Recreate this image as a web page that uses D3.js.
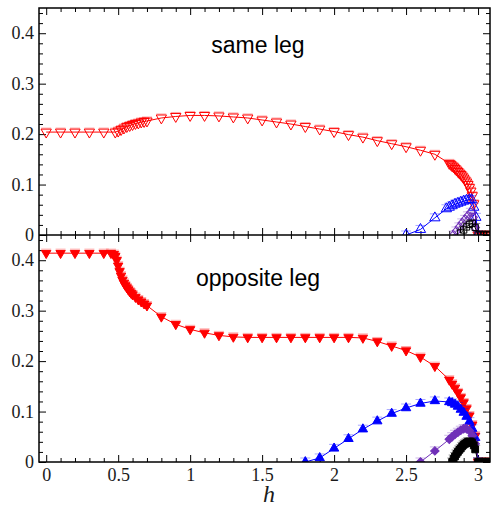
<!DOCTYPE html>
<html>
<head>
<meta charset="utf-8">
<script src="https://cdn.jsdelivr.net/npm/d3@7"></script>
<style>
  body { margin: 0; background: #fff; }
  svg { display: block; }
</style>
</head>
<body>
<div id="chart"></div>
<script>
// ---- data ----
// same leg (open markers)
const hSameRed = [0, 0.1, 0.2, 0.3, 0.4, 0.48, 0.5, 0.52, 0.54, 0.56, 0.58, 0.6, 0.62, 0.64, 0.66, 0.68, 0.7,
  0.8, 0.9, 1.0, 1.1, 1.2, 1.3, 1.4, 1.5, 1.6, 1.7, 1.8, 1.9, 2.0, 2.1, 2.2, 2.3, 2.4, 2.5, 2.6, 2.7,
  2.8, 2.81, 2.82, 2.83, 2.84, 2.85, 2.86, 2.87, 2.88, 2.89, 2.9, 2.91, 2.92, 2.93, 2.94, 2.95, 2.96, 2.97,
  3.0, 3.02, 3.04, 3.06, 3.08];
const sameRed = [0.204, 0.204, 0.204, 0.204, 0.204, 0.204, 0.206, 0.209, 0.212, 0.215, 0.217, 0.219, 0.221, 0.222, 0.224, 0.225, 0.226,
  0.232, 0.235, 0.237, 0.237, 0.236, 0.234, 0.232, 0.228, 0.224, 0.22, 0.215, 0.21, 0.205, 0.199, 0.194, 0.187, 0.181, 0.175, 0.168, 0.16,
  0.142, 0.14, 0.137, 0.135, 0.132, 0.129, 0.126, 0.123, 0.12, 0.117, 0.113, 0.109, 0.105, 0.1, 0.094, 0.087, 0.078, 0.062,
  0, 0, 0, 0, 0];

const hSameBlue = [2.5, 2.6, 2.7, 2.78, 2.8, 2.82, 2.84, 2.86, 2.88, 2.9, 2.92, 2.94, 2.955, 2.97, 2.985, 3.0];
const sameBlue = [0, 0.011, 0.034, 0.052, 0.055, 0.058, 0.061, 0.063, 0.065, 0.067, 0.069, 0.07, 0.07, 0.055, 0.035, 0];

const hSamePurple = [2.83, 2.85, 2.87, 2.89, 2.91, 2.93, 2.95, 2.965, 2.98, 3.0];
const samePurple = [0, 0.008, 0.016, 0.024, 0.031, 0.038, 0.045, 0.035, 0.015, 0];

const hSameBlack = [2.88, 2.9, 2.92, 2.94, 2.96, 2.98, 3.0, 3.02, 3.04, 3.06, 3.08];
const sameBlack = [0.004, 0.01, 0.016, 0.021, 0.023, 0.015, 0, 0, 0, 0, 0];

// opposite leg (filled markers)
const hOppRed = [0, 0.1, 0.2, 0.3, 0.4, 0.45, 0.47, 0.48, 0.49, 0.5, 0.51, 0.52, 0.53, 0.54, 0.55, 0.56, 0.57, 0.58, 0.59, 0.6,
  0.62, 0.64, 0.66, 0.68, 0.7, 0.8, 0.9, 1.0, 1.1, 1.2, 1.3, 1.4, 1.5, 1.6, 1.7, 1.8, 1.9, 2.0, 2.1, 2.2,
  2.3, 2.4, 2.5, 2.6, 2.7, 2.8, 2.82, 2.84, 2.86, 2.88, 2.9, 2.92, 2.94, 2.96, 2.98, 3.0, 3.02, 3.04, 3.06, 3.08];
const oppRed = [0.414, 0.414, 0.414, 0.414, 0.414, 0.414, 0.412, 0.408, 0.4, 0.389, 0.378, 0.369, 0.361, 0.355, 0.35, 0.346, 0.342, 0.338, 0.335, 0.332,
  0.327, 0.322, 0.318, 0.314, 0.31, 0.288, 0.273, 0.263, 0.256, 0.251, 0.248, 0.247, 0.247, 0.247, 0.247, 0.247, 0.247, 0.247, 0.247, 0.246,
  0.239, 0.23, 0.221, 0.208, 0.19, 0.163, 0.155, 0.147, 0.138, 0.128, 0.118, 0.106, 0.092, 0.074, 0.052, 0, 0, 0, 0, 0];

const hOppBlue = [1.8, 1.9, 2.0, 2.1, 2.2, 2.3, 2.4, 2.5, 2.6, 2.7, 2.8, 2.82, 2.84, 2.86, 2.88, 2.9, 2.92, 2.94, 2.96, 2.98, 3.0];
const oppBlue = [0, 0.008, 0.027, 0.046, 0.065, 0.081, 0.096, 0.107, 0.116, 0.121, 0.119, 0.117, 0.114, 0.11, 0.104, 0.098, 0.09, 0.08, 0.066, 0.048, 0];

const hOppPurple = [2.6, 2.7, 2.8, 2.82, 2.84, 2.86, 2.88, 2.9, 2.92, 2.94, 2.96, 2.98, 3.0];
const oppPurple = [0, 0.022, 0.045, 0.05, 0.055, 0.059, 0.063, 0.066, 0.066, 0.062, 0.052, 0.036, 0];

const hOppBlack = [2.82, 2.83, 2.84, 2.85, 2.86, 2.87, 2.88, 2.89, 2.9, 2.91, 2.92, 2.93, 2.94, 2.95, 2.96, 2.97, 2.98, 3.0, 3.02, 3.04, 3.06, 3.08];
const oppBlack = [0, 0.006, 0.011, 0.016, 0.02, 0.024, 0.027, 0.031, 0.034, 0.036, 0.038, 0.04, 0.04, 0.04, 0.038, 0.033, 0.025, 0, 0, 0, 0, 0];

const xMajor = [0, 0.5, 1, 1.5, 2, 2.5, 3];
const yMajor = [0, 0.1, 0.2, 0.3, 0.4];
const panelTitles = ["same leg", "opposite leg"];

// ---- layout ----
const W = 492, H = 508;
const pLeft = 39, pRight = 490, pTop = 8, pMid = 235, pBottom = 462;
const SERIF = '"Liberation Serif"';
const SANS = '"Liberation Sans"';

const svg = d3.select("#chart").append("svg").attr("width", W).attr("height", H);

const x = d3.scaleLinear().domain([-0.05, 3.083]).range([pLeft, pRight]);
const yTop = d3.scaleLinear().domain([0, 0.45]).range([pMid, pTop]);
const yBot = d3.scaleLinear().domain([0, 0.45]).range([pBottom, pMid]);

const xMinor = d3.range(0, 31).map(i => i / 10).filter(v => !xMajor.includes(v));
const yMinor = d3.range(0, 23).map(i => i / 50).filter(v => !yMajor.some(m => Math.abs(m - v) < 1e-9));

function styleAxis(g)
{
  g.select(".domain").remove();
  g.selectAll(".tick line").attr("stroke", "#000").attr("stroke-width", 1);
  g.selectAll(".tick text").style("font-family", SERIF).style("font-size", "18px").attr("fill", "#1a1a1a");
}

function drawAxes(y, y0, y1, labelX)
{
  // left
  svg.append("g").attr("transform", `translate(${pLeft},0)`)
    .call(d3.axisLeft(y).tickValues(yMajor).tickSize(-7).tickPadding(5).tickFormat(d => String(d)))
    .call(styleAxis);
  svg.append("g").attr("transform", `translate(${pLeft},0)`)
    .call(d3.axisLeft(y).tickValues(yMinor).tickSize(-4).tickFormat(""))
    .call(styleAxis);
  // right
  svg.append("g").attr("transform", `translate(${pRight},0)`)
    .call(d3.axisRight(y).tickValues(yMajor).tickSize(-7).tickFormat(""))
    .call(styleAxis);
  svg.append("g").attr("transform", `translate(${pRight},0)`)
    .call(d3.axisRight(y).tickValues(yMinor).tickSize(-4).tickFormat(""))
    .call(styleAxis);
  // top edge of panel (ticks down)
  svg.append("g").attr("transform", `translate(0,${y1})`)
    .call(d3.axisTop(x).tickValues(xMajor).tickSize(-7).tickFormat(""))
    .call(styleAxis);
  svg.append("g").attr("transform", `translate(0,${y1})`)
    .call(d3.axisTop(x).tickValues(xMinor).tickSize(-4).tickFormat(""))
    .call(styleAxis);
  // bottom edge of panel (ticks up)
  svg.append("g").attr("transform", `translate(0,${y0})`)
    .call(d3.axisBottom(x).tickValues(xMajor).tickSize(-7).tickPadding(6)
      .tickFormat(labelX ? (d => String(d)) : ""))
    .call(styleAxis);
  svg.append("g").attr("transform", `translate(0,${y0})`)
    .call(d3.axisBottom(x).tickValues(xMinor).tickSize(-4).tickFormat(""))
    .call(styleAxis);
}

drawAxes(yTop, pMid, pTop, false);
drawAxes(yBot, pBottom, pMid, true);

// clip paths for panels
const defs = svg.append("defs");
defs.append("clipPath").attr("id", "clipTop").append("rect")
  .attr("x", pLeft).attr("y", pTop).attr("width", pRight - pLeft).attr("height", pMid - pTop);
defs.append("clipPath").attr("id", "clipBot").append("rect")
  .attr("x", pLeft).attr("y", pMid).attr("width", pRight - pLeft).attr("height", pBottom - pMid);

const tri = d3.symbol().type(d3.symbolTriangle);
const sq = d3.symbol().type(d3.symbolSquare);

function drawSeries(layer, y, hs, vs, color, shape, filled)
{
  const pts = hs.map((h, i) => [h, vs[i]]);
  layer.append("path")
    .attr("d", d3.line().x(d => x(d[0])).y(d => y(d[1]))(pts))
    .attr("fill", "none").attr("stroke", color).attr("stroke-width", 1);

  let sym, rot;
  if (shape === "down") { sym = tri.size(filled ? 38 : 46)(); rot = 180; }
  else if (shape === "up") { sym = tri.size(filled ? 38 : 46)(); rot = 0; }
  else if (shape === "diamond") { sym = sq.size(filled ? 36 : 38)(); rot = 45; }
  else { sym = sq.size(filled ? 46 : 40)(); rot = 0; }

  // faint error-bar caps seen around each marker
  layer.selectAll(null).data(pts).enter().append("line")
    .attr("x1", d => x(d[0]) - 5).attr("x2", d => x(d[0]) + 5)
    .attr("y1", d => y(d[1]) - 4).attr("y2", d => y(d[1]) - 4)
    .attr("stroke", color).attr("stroke-opacity", 0.35).attr("stroke-width", 1);

  layer.selectAll(null).data(pts).enter().append("path")
    .attr("d", sym)
    .attr("transform", d => `translate(${x(d[0])},${y(d[1])}) rotate(${rot})`)
    .attr("fill", filled ? color : "none")
    .attr("stroke", color)
    .attr("stroke-width", 1);
}

const topLayer = svg.append("g").attr("clip-path", "url(#clipTop)");
drawSeries(topLayer, yTop, hSameRed, sameRed, "#ff0000", "down", false);
drawSeries(topLayer, yTop, hSameBlue, sameBlue, "#0000ff", "up", false);
drawSeries(topLayer, yTop, hSamePurple, samePurple, "#7030b8", "diamond", false);
drawSeries(topLayer, yTop, hSameBlack, sameBlack, "#000000", "square", false);

const botLayer = svg.append("g").attr("clip-path", "url(#clipBot)");
drawSeries(botLayer, yBot, hOppRed, oppRed, "#ff0000", "down", true);
drawSeries(botLayer, yBot, hOppBlue, oppBlue, "#0000ff", "up", true);
drawSeries(botLayer, yBot, hOppPurple, oppPurple, "#7030b8", "diamond", true);
drawSeries(botLayer, yBot, hOppBlack, oppBlack, "#000000", "square", true);

// frames
svg.append("rect").attr("x", pLeft).attr("y", pTop).attr("width", pRight - pLeft).attr("height", pBottom - pTop)
  .attr("fill", "none").attr("stroke", "#000").attr("stroke-width", 1.5);
svg.append("line").attr("x1", pLeft).attr("x2", pRight).attr("y1", pMid).attr("y2", pMid)
  .attr("stroke", "#000").attr("stroke-width", 1.5);

// panel titles
svg.append("text").attr("x", 258).attr("y", 53).attr("text-anchor", "middle")
  .style("font-family", SANS).style("font-size", "23px").attr("fill", "#000").text(panelTitles[0]);
svg.append("text").attr("x", 258).attr("y", 286).attr("text-anchor", "middle")
  .style("font-family", SANS).style("font-size", "23px").attr("fill", "#000").text(panelTitles[1]);

// x label
svg.append("text").attr("x", 269).attr("y", 502).attr("text-anchor", "middle")
  .style("font-family", SERIF).style("font-style", "italic").style("font-size", "24px").attr("fill", "#1a1a1a")
  .text("h");
</script>
</body>
</html>
